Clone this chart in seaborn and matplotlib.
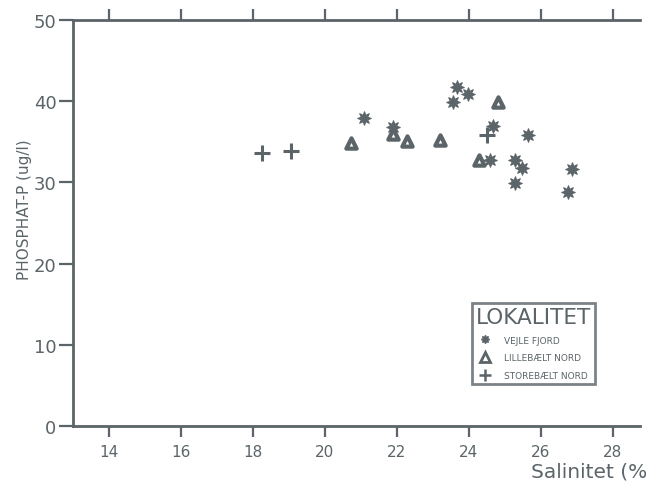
import matplotlib
matplotlib.use("Agg")
import matplotlib.pyplot as plt
import seaborn as sns
from matplotlib.lines import Line2D

# Salinity (x) and phosphate-P (y) per locality
vejle_sal = [21.09, 21.88, 23.68, 23.98, 23.56, 24.68, 25.65, 24.58, 25.28, 25.46, 25.28, 26.85, 26.76]
vejle_po4 = [37.9, 36.8, 41.8, 40.9, 39.9, 36.9, 35.8, 32.8, 32.8, 31.8, 29.9, 31.7, 28.8]

lille_sal = [20.71, 21.88, 22.27, 23.19, 24.80, 24.29]
lille_po4 = [34.8, 35.9, 35.1, 35.2, 39.9, 32.8]

store_sal = [18.25, 19.06, 24.49]
store_po4 = [33.6, 33.9, 35.8]

localities = ["VEJLE FJORD", "LILLEBÆLT NORD", "STOREBÆLT NORD"]
x_ticks = [14, 16, 18, 20, 22, 24, 26, 28]
y_ticks = [0, 10, 20, 30, 40, 50]

ink = "#5b6468"

sns.set_theme(style="white")
plt.rcParams["font.family"] = ["DejaVu Sans"]

fig = plt.figure(figsize=(6.46, 4.85), dpi=100)
ax = fig.add_axes([73 / 646, 1 - 427 / 485, (640 - 73) / 646, (427 - 21) / 485])

star = (8, 1, 0)
sns.scatterplot(x=vejle_sal, y=vejle_po4, ax=ax, marker=star, s=95,
                color=ink, edgecolor=ink, linewidth=0.8, legend=False)
sns.scatterplot(x=lille_sal, y=lille_po4, ax=ax, marker="^", s=55,
                facecolor="white", edgecolor=ink, linewidth=3.0, legend=False)
sns.scatterplot(x=store_sal, y=store_po4, ax=ax, marker="+", s=130,
                color=ink, linewidth=2.2, legend=False)

ax.set_xlim(13, 28.75)
ax.set_ylim(0, 50)
ax.set_xticks(x_ticks)
ax.set_yticks(y_ticks)
ax.set_xlabel("")
ax.set_ylabel("")

for side in ["left", "bottom", "top"]:
    ax.spines[side].set_visible(True)
    ax.spines[side].set_color(ink)
    ax.spines[side].set_linewidth(2.0)
ax.spines["right"].set_visible(False)

ax.tick_params(axis="x", which="both", direction="out", length=8, width=1.6,
               color=ink, labelcolor=ink, labelsize=11, pad=5,
               bottom=True, top=True, labeltop=False)
ax.tick_params(axis="y", direction="out", length=10, width=1.6,
               color=ink, labelcolor=ink, labelsize=13, pad=2, left=True)

fig.text(25 / 646, 1 - 210 / 485, "PHOSPHAT-P (ug/l)", rotation=90,
         ha="center", va="center", fontsize=11, color=ink)
fig.text(531 / 646, 1 - 472 / 485, "Salinitet (‰)", ha="left", va="center",
         fontsize=14.5, color=ink)

handles = [
    Line2D([], [], linestyle="none", marker=star, markersize=6, color=ink),
    Line2D([], [], linestyle="none", marker="^", markersize=7,
           markerfacecolor="white", markeredgecolor=ink, markeredgewidth=2.0),
    Line2D([], [], linestyle="none", marker="+", markersize=8, color=ink,
           markeredgewidth=1.8),
]
leg = ax.legend(handles, localities, title="LOKALITET",
                loc="upper left", bbox_to_anchor=((472 - 73) / 567, (427 - 304) / 406),
                frameon=True, fancybox=False, fontsize=6.5, title_fontsize=15.5,
                handlelength=1.2, handletextpad=1.5, labelspacing=0.95,
                borderpad=0.45, borderaxespad=0)
leg.get_frame().set_edgecolor(ink)
leg.get_frame().set_linewidth(2.0)
leg.get_title().set_color(ink)
for t in leg.get_texts():
    t.set_color(ink)

fig.savefig("out.png", dpi=100)
